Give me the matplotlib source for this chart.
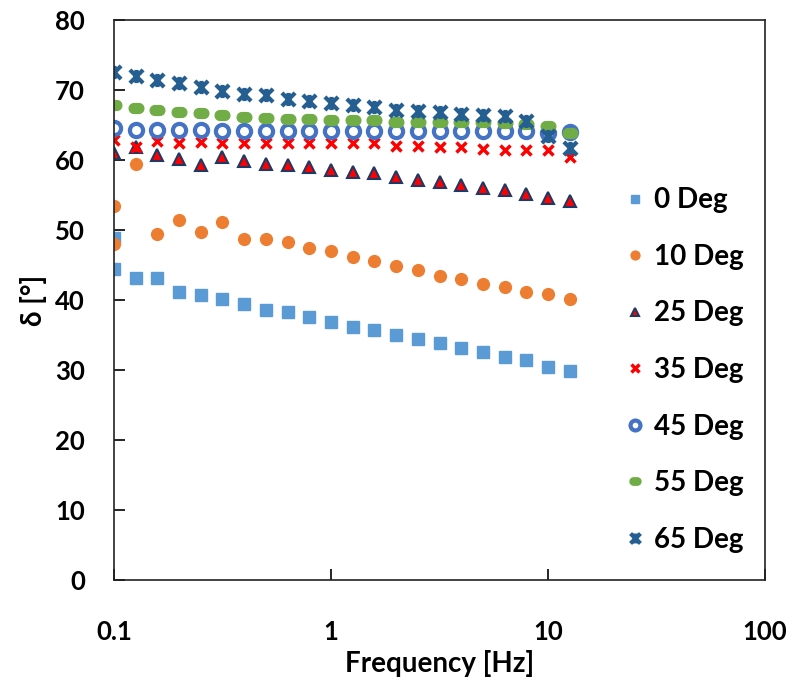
import numpy as np
import matplotlib
matplotlib.use('Agg')
import matplotlib.pyplot as plt
from matplotlib.path import Path

plt.rcParams['font.family'] = ['Lato', 'DejaVu Sans']
plt.rcParams['font.weight'] = 'bold'

# frequency sweep, 10 points per decade
freq = [0.1, 0.126, 0.158, 0.2, 0.251, 0.316, 0.398, 0.501, 0.631, 0.794, 1.0,
        1.259, 1.585, 1.995, 2.512, 3.162, 3.981, 5.012, 6.31, 7.943, 10.0, 12.59]
# 0 and 10 Deg have a repeated first point at 0.1 Hz
freq_rep = [0.1] + freq

deg0 = [48.8, 44.5, 43.1, 43.1, 41.2, 40.7, 40.2, 39.5, 38.6, 38.3, 37.6, 36.9,
        36.2, 35.7, 35.0, 34.5, 33.8, 33.1, 32.6, 31.9, 31.4, 30.5, 29.8]
deg10 = [53.5, 48.0, 59.4, 49.4, 51.5, 49.7, 51.1, 48.7, 48.7, 48.3, 47.5, 47.0,
         46.1, 45.6, 44.9, 44.3, 43.5, 43.0, 42.3, 41.8, 41.1, 40.9, 40.2]
deg25 = [61.0, 61.9, 60.7, 60.2, 59.3, 60.5, 59.8, 59.5, 59.3, 59.0, 58.6,
         58.3, 58.1, 57.6, 57.2, 56.8, 56.4, 56.0, 55.7, 55.1, 54.6, 54.2]
deg35 = [62.9, 61.9, 62.7, 62.4, 62.6, 62.5, 62.5, 62.5, 62.5, 62.5, 62.4,
         62.4, 62.4, 62.0, 62.0, 61.8, 61.8, 61.6, 61.4, 61.4, 61.4, 60.4]
deg45 = [64.6, 64.3, 64.3, 64.3, 64.3, 64.2, 64.2, 64.2, 64.2, 64.2, 64.1,
         64.1, 64.1, 64.1, 64.2, 64.2, 64.2, 64.2, 64.2, 64.2, 63.9, 64.0]
deg55 = [67.9, 67.5, 67.1, 66.9, 66.7, 66.4, 66.2, 66.0, 65.9, 65.9, 65.7,
         65.7, 65.7, 65.5, 65.5, 65.5, 65.4, 65.4, 65.3, 65.2, 64.8, 63.9]
deg65 = [72.6, 72.0, 71.5, 71.0, 70.4, 69.9, 69.5, 69.3, 68.7, 68.5, 68.1,
         67.9, 67.6, 67.2, 67.0, 66.8, 66.6, 66.4, 66.3, 65.6, 63.5, 61.7]

# custom markers: rounded bar (Excel "dash") and star (X + vertical)
t = np.linspace(-np.pi / 2, np.pi / 2, 10)
arc_r = np.column_stack([0.25 + 0.5 * np.cos(t), 0.5 * np.sin(t)])
arc_l = np.column_stack([-0.25 - 0.5 * np.cos(t), -0.5 * np.sin(t)])
bar_verts = np.vstack([arc_r, arc_l, arc_r[:1]])
bar_marker = Path(bar_verts, closed=True)

M, L = Path.MOVETO, Path.LINETO
star_marker = Path([(-1, -1), (1, 1), (-1, 1), (1, -1), (0, -1), (0, 1)],
                   [M, L, M, L, M, L])

fig = plt.figure(figsize=(7.95, 6.86), dpi=100)
ax = fig.add_axes([0.1434, 0.1545, 0.8189, 0.8163])

ax.plot(freq_rep, deg0, ls='none', marker='s', ms=8, color='#5B9BD5', mec='#5B9BD5', label='0 Deg')
ax.plot(freq_rep, deg10, ls='none', marker='o', ms=8.5, color='#ED7D31', mec='#ED7D31', label='10 Deg')
ax.plot(freq, deg25, ls='none', marker='^', ms=8, mfc='#FF0000', mec='#1F3864', mew=1.5, label='25 Deg')
ax.plot(freq, deg35, ls='none', marker='x', ms=7.5, mec='#FF0000', mew=2.5, label='35 Deg')
ax.plot(freq, deg45, ls='none', marker='o', ms=9.5, mfc='white', mec='#4472C4', mew=3, label='45 Deg')
ax.plot(freq, deg55, ls='none', marker=bar_marker, ms=10.5, color='#70AD47', mec='#70AD47', label='55 Deg')
ax.plot(freq, deg65, ls='none', marker=star_marker, ms=9.5, mfc='none', mec='#255E91', mew=3, label='65 Deg')

ax.set_xscale('log')
ax.set_xlim(0.1, 100)
ax.set_ylim(0, 80)
ax.set_xticks([0.1, 1, 10, 100])
ax.set_xticklabels(['0.1', '1', '10', '100'])
ax.set_yticks(range(0, 81, 10))
ax.minorticks_off()
ax.tick_params(axis='both', direction='in', length=8, width=1.2, labelsize=18.5)
ax.tick_params(axis='x', pad=29)
ax.tick_params(axis='y', pad=21)
for s in ax.spines.values():
    s.set_linewidth(1.2)
    s.set_color('#222222')

ax.set_xlabel('Frequency [Hz]', fontsize=20, fontweight='bold', labelpad=4)
ax.set_ylabel('δ [°]', fontsize=20, fontweight='bold', labelpad=6)

ax.legend(loc='center left', bbox_to_anchor=(0.783, 0.375), frameon=False,
          fontsize=20, labelspacing=1.1, handlelength=0.8, handletextpad=0.3,
          borderaxespad=0, borderpad=0, markerscale=0.75)

fig.savefig('out.png', dpi=100)
